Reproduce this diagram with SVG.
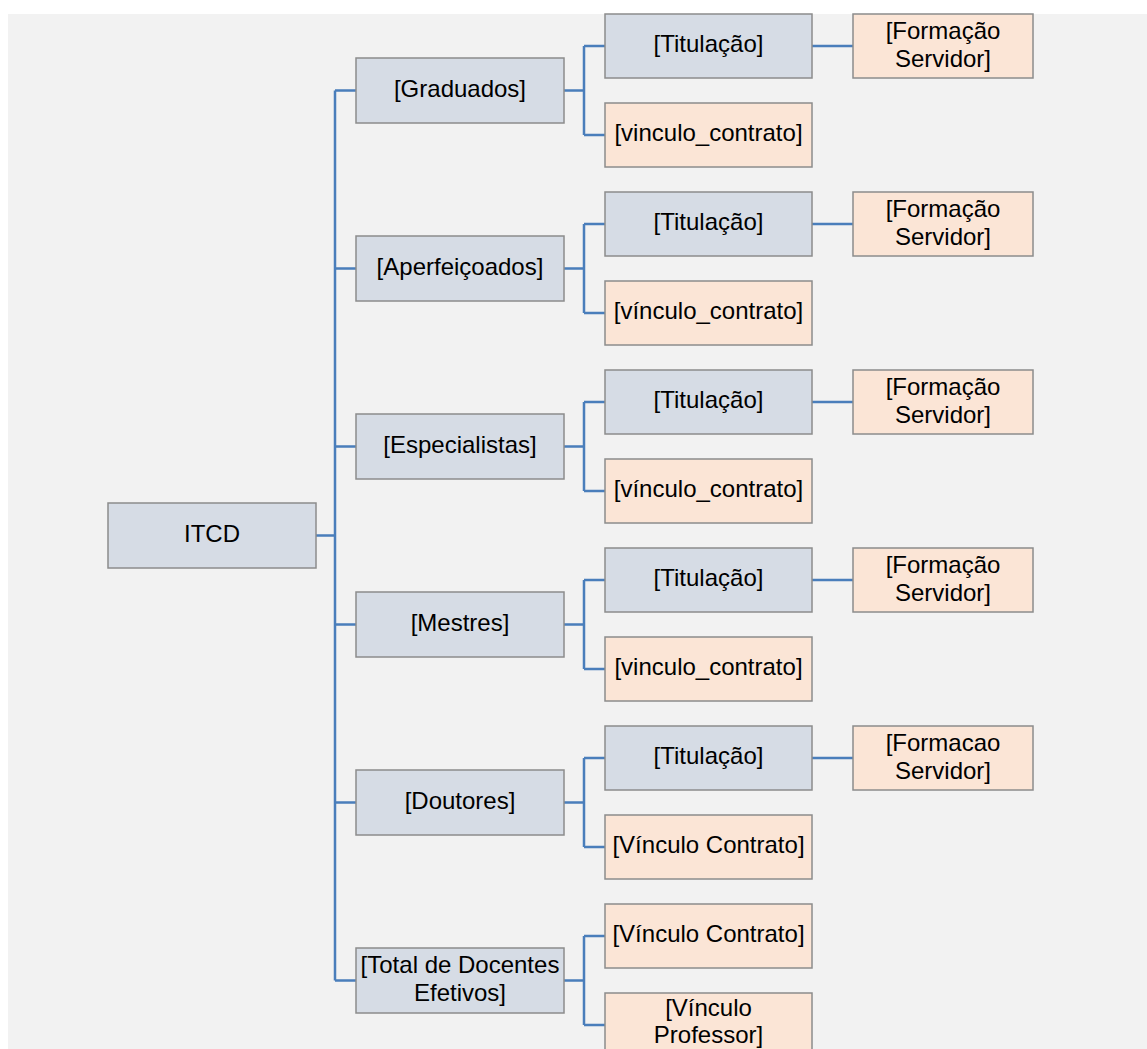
<svg xmlns="http://www.w3.org/2000/svg" width="1147" height="1049" viewBox="0 0 1147 1049">
<style>
.b{fill:#d6dce5;stroke:#8c8c8c;stroke-width:1.5}
.o{fill:#fbe5d6;stroke:#8c8c8c;stroke-width:1.5}
.t{font-family:"Liberation Sans",Arial,sans-serif;font-size:24px;fill:#000;text-anchor:middle}
.c{fill:none;stroke:#4a7ebb;stroke-width:2.5}
</style>
<rect x="0" y="0" width="1147" height="1049" fill="#ffffff"/>
<rect x="8" y="14" width="1139" height="1035" fill="#f2f2f2"/>
<g id="connectors">
<path class="c" d="M316,535.5H335M335,90.5V980.5M335,90.5H356M335,268.5H356M335,446.5H356M335,624.5H356M335,802.5H356M335,980.5H356"/>
<path class="c" d="M564,90.5H584M584,46V135M584,46H605M584,135H605M812,46H853"/>
<path class="c" d="M564,268.5H584M584,224V313M584,224H605M584,313H605M812,224H853"/>
<path class="c" d="M564,446.5H584M584,402V491M584,402H605M584,491H605M812,402H853"/>
<path class="c" d="M564,624.5H584M584,580V669M584,580H605M584,669H605M812,580H853"/>
<path class="c" d="M564,802.5H584M584,758V847M584,758H605M584,847H605M812,758H853"/>
<path class="c" d="M564,980.5H584M584,936V1025M584,936H605M584,1025H605"/>
</g>
<g id="itcd"><rect class="b" x="108" y="503" width="208" height="65"/><text class="t" x="212" y="542">ITCD</text></g>

<g id="graduados"><rect class="b" x="356" y="58" width="208" height="65"/><text class="t" x="460" y="97">[Graduados]</text></g>
<g id="g-titulacao"><rect class="b" x="605" y="14" width="207" height="64"/><text class="t" x="708.5" y="52">[Titulação]</text></g>
<g id="g-formacao"><rect class="o" x="853" y="14" width="180" height="64"/><text class="t" x="943" y="39">[Formação</text><text class="t" x="943" y="67">Servidor]</text></g>
<g id="g-vinculo"><rect class="o" x="605" y="103" width="207" height="64"/><text class="t" x="708.5" y="141">[vinculo_contrato]</text></g>

<g id="aperfeicoados"><rect class="b" x="356" y="236" width="208" height="65"/><text class="t" x="460" y="275">[Aperfeiçoados]</text></g>
<g id="a-titulacao"><rect class="b" x="605" y="192" width="207" height="64"/><text class="t" x="708.5" y="230">[Titulação]</text></g>
<g id="a-formacao"><rect class="o" x="853" y="192" width="180" height="64"/><text class="t" x="943" y="217">[Formação</text><text class="t" x="943" y="245">Servidor]</text></g>
<g id="a-vinculo"><rect class="o" x="605" y="281" width="207" height="64"/><text class="t" x="708.5" y="319">[vínculo_contrato]</text></g>

<g id="especialistas"><rect class="b" x="356" y="414" width="208" height="65"/><text class="t" x="460" y="453">[Especialistas]</text></g>
<g id="e-titulacao"><rect class="b" x="605" y="370" width="207" height="64"/><text class="t" x="708.5" y="408">[Titulação]</text></g>
<g id="e-formacao"><rect class="o" x="853" y="370" width="180" height="64"/><text class="t" x="943" y="395">[Formação</text><text class="t" x="943" y="423">Servidor]</text></g>
<g id="e-vinculo"><rect class="o" x="605" y="459" width="207" height="64"/><text class="t" x="708.5" y="497">[vínculo_contrato]</text></g>

<g id="mestres"><rect class="b" x="356" y="592" width="208" height="65"/><text class="t" x="460" y="631">[Mestres]</text></g>
<g id="m-titulacao"><rect class="b" x="605" y="548" width="207" height="64"/><text class="t" x="708.5" y="586">[Titulação]</text></g>
<g id="m-formacao"><rect class="o" x="853" y="548" width="180" height="64"/><text class="t" x="943" y="573">[Formação</text><text class="t" x="943" y="601">Servidor]</text></g>
<g id="m-vinculo"><rect class="o" x="605" y="637" width="207" height="64"/><text class="t" x="708.5" y="675">[vinculo_contrato]</text></g>

<g id="doutores"><rect class="b" x="356" y="770" width="208" height="65"/><text class="t" x="460" y="809">[Doutores]</text></g>
<g id="d-titulacao"><rect class="b" x="605" y="726" width="207" height="64"/><text class="t" x="708.5" y="764">[Titulação]</text></g>
<g id="d-formacao"><rect class="o" x="853" y="726" width="180" height="64"/><text class="t" x="943" y="751">[Formacao</text><text class="t" x="943" y="779">Servidor]</text></g>
<g id="d-vinculo"><rect class="o" x="605" y="815" width="207" height="64"/><text class="t" x="708.5" y="853">[Vínculo Contrato]</text></g>

<g id="total"><rect class="b" x="356" y="948" width="208" height="65"/><text class="t" x="460" y="973">[Total de Docentes</text><text class="t" x="460" y="1001">Efetivos]</text></g>
<g id="t-vinculo-contrato"><rect class="o" x="605" y="904" width="207" height="64"/><text class="t" x="708.5" y="942">[Vínculo Contrato]</text></g>
<g id="t-vinculo-professor"><rect class="o" x="605" y="993" width="207" height="64"/><text class="t" x="708.5" y="1016">[Vínculo</text><text class="t" x="708.5" y="1043">Professor]</text></g>
</svg>
